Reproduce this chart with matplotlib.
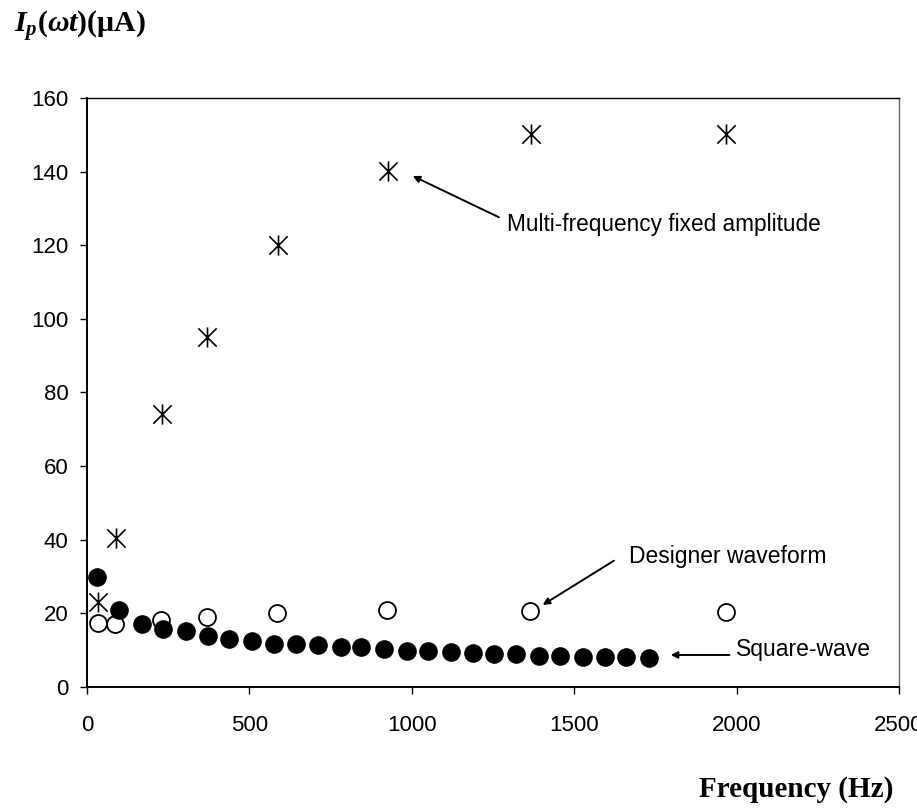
import numpy as np
import matplotlib
matplotlib.use("Agg")
import matplotlib.pyplot as plt
from matplotlib.path import Path

# multi-frequency fixed amplitude (stars)
multi_freq = [34, 88, 230, 370, 589, 927, 1366, 1968]
multi_amp = [23.0, 40.5, 74.1, 95.0, 120.0, 140.1, 150.2, 150.2]

# designer waveform (open circles)
designer_freq = [35, 86, 228, 368, 586, 925, 1363, 1967]
designer_amp = [17.3, 17.1, 18.1, 18.9, 20.0, 20.8, 20.6, 20.3]

# square-wave (filled circles)
square_freq = [30, 99, 168, 235, 304, 371, 438, 509, 576, 642, 712, 782, 845,
               915, 984, 1050, 1120, 1187, 1252, 1322, 1392, 1457, 1527, 1596,
               1660, 1730]
square_amp = [29.9, 20.8, 17.1, 15.8, 15.2, 13.9, 13.0, 12.6, 11.7, 11.7, 11.3,
              11.0, 10.8, 10.2, 9.9, 9.8, 9.4, 9.3, 9.0, 9.0, 8.5, 8.5, 8.1,
              8.1, 8.1, 7.8]

x_ticks = [0, 500, 1000, 1500, 2000, 2500]
y_ticks = [0, 20, 40, 60, 80, 100, 120, 140, 160]

plt.rcParams['font.family'] = ['Liberation Sans', 'DejaVu Sans']
plt.rcParams['mathtext.fontset'] = 'custom'
plt.rcParams['mathtext.it'] = 'Liberation Serif:italic:bold'
plt.rcParams['mathtext.rm'] = 'Liberation Serif:bold'
plt.rcParams['mathtext.bf'] = 'Liberation Serif:bold'

# asterisk marker: X plus a vertical stroke
star = Path([(-1, -1), (1, 1), (-1, 1), (1, -1), (0, -1.1), (0, 1.1)],
            [Path.MOVETO, Path.LINETO, Path.MOVETO, Path.LINETO,
             Path.MOVETO, Path.LINETO])

fig = plt.figure(figsize=(9.17, 8.09), dpi=100)
ax = fig.add_axes([0.0949, 0.1508, 0.8855, 0.7281])

ax.plot(designer_freq, designer_amp, ls='none', marker='o', ms=12.2,
        mfc='white', mec='black', mew=1.3, zorder=3)
ax.plot(square_freq, square_amp, ls='none', marker='o', ms=12.4,
        mfc='black', mec='black', zorder=4)
ax.plot(multi_freq, multi_amp, ls='none', marker=star, ms=14.5,
        mfc='none', mec='black', mew=1.2, zorder=5)

ax.set_xlim(0, 2500)
ax.set_ylim(0, 160)
ax.set_xticks(x_ticks)
ax.set_yticks(y_ticks)
ax.tick_params(axis='both', direction='out', length=5, width=1, labelsize=16,
               colors='black')
ax.tick_params(axis='y', pad=8.5)
ax.tick_params(axis='x', pad=15)

for side in ['left', 'bottom']:
    ax.spines[side].set_linewidth(1.4)
ax.spines['top'].set_linewidth(1.0)
ax.spines['right'].set_linewidth(1.0)
ax.spines['right'].set_color('#666666')

arrow = dict(arrowstyle='-|>', lw=1.4, color='black', mutation_scale=10,
             shrinkA=0, shrinkB=0)
ax.annotate('', xy=(1003, 138.8), xytext=(1268, 127.6), arrowprops=arrow)
ax.text(1292, 123.9, 'Multi-frequency fixed amplitude', fontsize=16.3,
        ha='left', va='baseline')
ax.annotate('', xy=(1403, 22.3), xytext=(1622, 34.3), arrowprops=arrow)
ax.text(1668, 33.6, 'Designer waveform', fontsize=16.5, ha='left',
        va='baseline')
ax.annotate('', xy=(1797, 8.7), xytext=(1978, 8.7), arrowprops=arrow)
ax.text(1997, 8.4, 'Square-wave', fontsize=16.5, ha='left', va='baseline')

fig.text(14 / 917, 1 - 33 / 809, r'$I_p(\omega t)$(μA)', fontsize=21.5,
         family='Liberation Serif', weight='bold', ha='left', va='baseline')
fig.text(893 / 917, 1 - 797 / 809, 'Frequency (Hz)', fontsize=21,
         family='Liberation Serif', weight='bold', ha='right', va='baseline')

fig.savefig('out.png', dpi=100)
